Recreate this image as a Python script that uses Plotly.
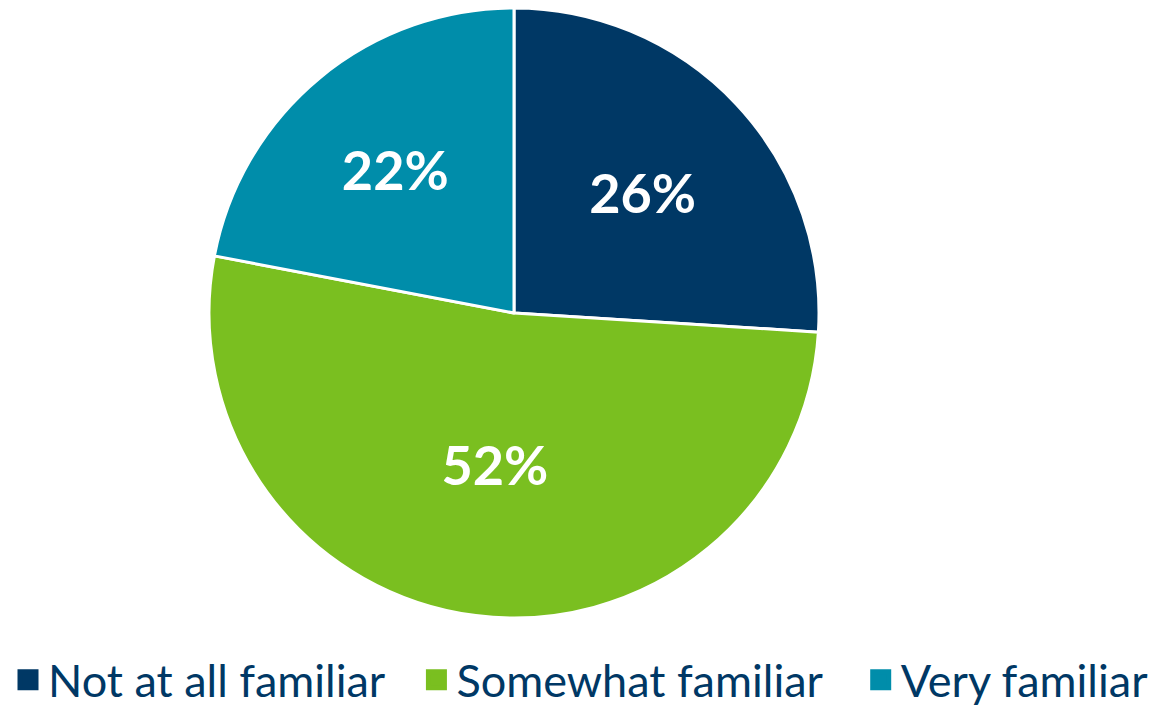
import plotly.graph_objects as go

categories = ["Not at all familiar", "Somewhat familiar", "Very familiar"]
values = [26, 52, 22]
colors = ["#003865", "#7ABF20", "#008DAA"]

W, H = 1157, 708
cx, cy, r = 506, 305, 305
legend_x = [0.0, 0.353, 0.737]

fig = go.Figure()
fig.add_trace(go.Pie(
    labels=categories,
    values=values,
    sort=False,
    direction="clockwise",
    rotation=0,
    marker=dict(colors=colors, line=dict(color="white", width=3)),
    texttemplate="%{value}%",
    textposition="inside",
    insidetextorientation="horizontal",
    textfont=dict(family="Lato", size=54, color="white", weight="bold"),
    domain=dict(x=[(cx - r) / W, (cx + r) / W],
                y=[max(0, 1 - (cy + r) / H), min(1, 1 - (cy - r) / H)]),
    hoverinfo="label+percent",
    showlegend=False,
))

legend_ids = ["legend", "legend2", "legend3"]
for name, col, lid in zip(categories, colors, legend_ids):
    fig.add_trace(go.Scatter(
        x=[None], y=[None], mode="markers", name=name,
        marker=dict(symbol="square", size=16, color=col, line=dict(color=col, width=5)),
        showlegend=True, hoverinfo="skip", legend=lid,
    ))

legend_style = dict(
    orientation="h", xanchor="left", y=0, yanchor="bottom",
    font=dict(family="Lato", size=45, color="#003865"),
    itemsizing="trace", itemwidth=30, bgcolor="rgba(0,0,0,0)",
)

fig.update_layout(
    width=W, height=H,
    margin=dict(l=0, r=0, t=0, b=0),
    paper_bgcolor="white",
    plot_bgcolor="white",
    xaxis=dict(visible=False),
    yaxis=dict(visible=False),
    showlegend=True,
    legend=dict(x=legend_x[0], **legend_style),
    legend2=dict(x=legend_x[1], **legend_style),
    legend3=dict(x=legend_x[2], **legend_style),
)

fig.write_html("out.html")
